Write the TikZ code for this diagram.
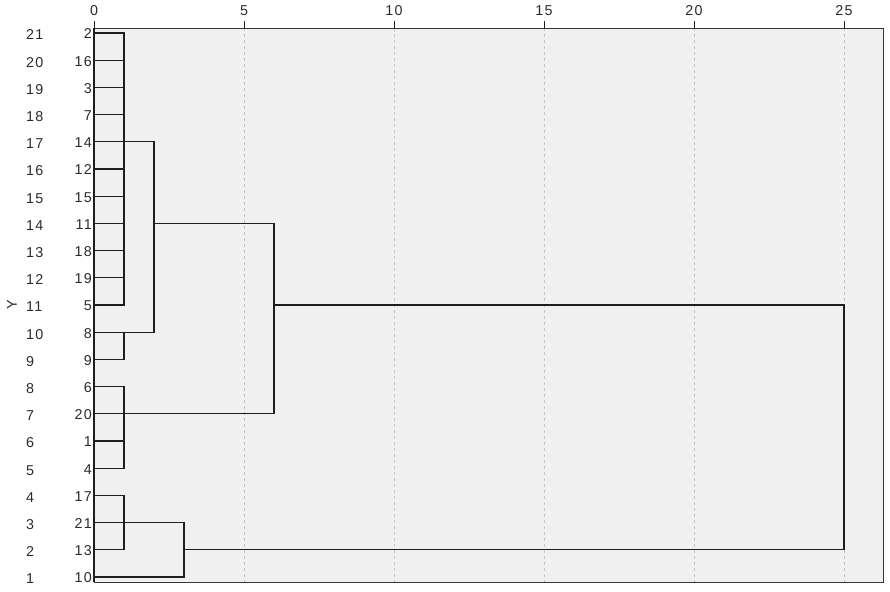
\documentclass[tikz,border=0pt]{standalone}
\usepackage{fontspec}
\setmainfont{Liberation Sans}[LetterSpace=9]
\definecolor{plotbg}{HTML}{F0F0F0}
\definecolor{gridc}{HTML}{C4C4C4}
\definecolor{dline}{HTML}{1E1E1E}
\definecolor{txt}{HTML}{2A2A2A}
\tikzset{
  dendro/.style={draw=dline, line width=1.2pt, line cap=rect, line join=miter},
  gridline/.style={draw=gridc, line width=0.8pt, dash pattern=on 3pt off 3pt},
  framebox/.style={draw=dline!90, line width=0.9pt},
  lbl/.style={text=txt, inner sep=0pt, font=\fontsize{14.3}{16}\selectfont},
}
\begin{document}
\begin{tikzpicture}[x=1pt,y=-1pt]
\useasboundingbox (0,0) rectangle (890,591);
% plot area
\fill[plotbg] (94,28) rectangle (883,582);
\foreach \u in {5,10,15,20,25} {
  \draw[gridline] ({94+30*\u},28) -- ({94+30*\u},582);
}
\draw[framebox] (94,28) rectangle (883,582);
\draw[draw=dline, line width=1.6pt] (94,28) -- (94,582);
% top axis
\foreach \u in {0,5,10,15,20,25} {
  \draw[draw=dline, line width=0.9pt] ({94+30*\u},21) -- ({94+30*\u},28);
  \node[lbl] (t\u) at ({94+30*\u},11) {\u};
}
% x positions
\coordinate (x1) at (124,0);
\coordinate (x2) at (154,0);
\coordinate (x3) at (184,0);
\coordinate (x6) at (274,0);
\coordinate (x25) at (844,0);
% leaves
\foreach \lab [count=\i from 0] in {2,16,3,7,14,12,15,11,18,19,5,8,9,6,20,1,4,17,21,13,10} {
  \coordinate (L\i) at (94,{33+27.2*\i});
  \node[lbl, anchor=east] (n\i) at (92,{34+27.2*\i}) {\lab};
}
\foreach \i [evaluate=\i as \k using int(21-\i)] in {0,...,20} {
  \node[lbl, anchor=west] (r\i) at (26,{35+27.2*\i}) {\k};
}
\node[lbl, rotate=90] (ylab) at (12,305) {Y};
% leaf stems
\foreach \i in {0,...,19} {
  \draw[dendro] (L\i) -- (L\i -| x1);
}
\draw[dendro] (L20) -- (L20 -| x3);
% cluster 1
\draw[dendro] (L0 -| x1) -- (L10 -| x1);
\draw[dendro] (L11 -| x1) -- (L12 -| x1);
\draw[dendro] (L4 -| x1) -- (L4 -| x2);
\draw[dendro] (L11 -| x1) -- (L11 -| x2);
\draw[dendro] (L4 -| x2) -- (L11 -| x2);
\draw[dendro] (L7 -| x2) -- (L7 -| x6);
% cluster 2
\draw[dendro] (L13 -| x1) -- (L16 -| x1);
\draw[dendro] (L14 -| x1) -- (L14 -| x6);
\draw[dendro] (L7 -| x6) -- (L14 -| x6);
\draw[dendro] (L10 -| x6) -- (L10 -| x25);
% cluster 3
\draw[dendro] (L17 -| x1) -- (L19 -| x1);
\draw[dendro] (L18 -| x1) -- (L18 -| x3);
\draw[dendro] (L18 -| x3) -- (L20 -| x3);
\draw[dendro] (L19 -| x3) -- (L19 -| x25);
% root
\draw[dendro] (L10 -| x25) -- (L19 -| x25);
\end{tikzpicture}
\end{document}
